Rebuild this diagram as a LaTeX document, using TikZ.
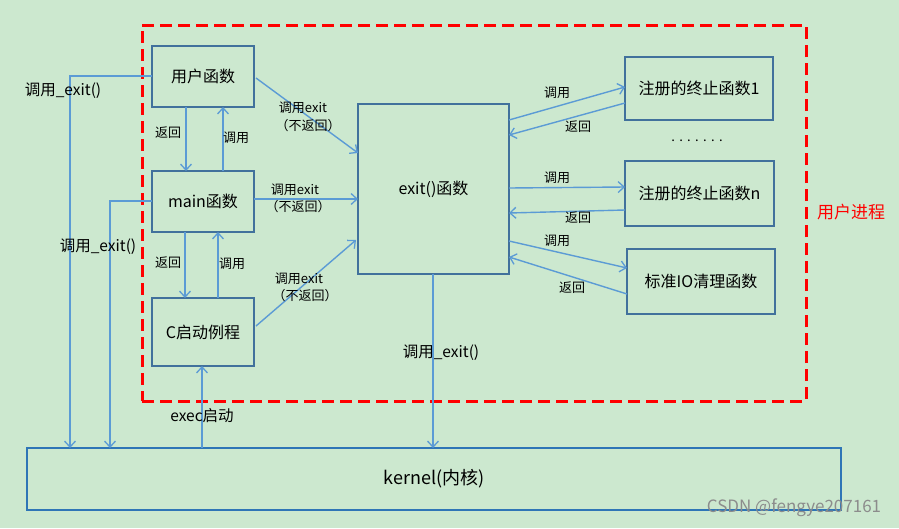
\documentclass[tikz,border=0pt]{standalone}
\usepackage{fontspec}
\setmainfont{Noto Sans CJK SC}
\usetikzlibrary{arrows.meta,calc}
\definecolor{bg}{RGB}{204,232,207}
\definecolor{boxc}{RGB}{65,113,156}
\definecolor{arr}{RGB}{91,155,213}
\definecolor{kbox}{RGB}{46,117,182}
\tikzset{
  box/.style={draw=boxc, line width=1.8pt, outer sep=0pt, inner sep=0pt, anchor=north west, font=\fontsize{16}{18}\selectfont},
  conn/.style={draw=arr, line width=1.4pt, -{Straight Barb[length=6pt,width=11pt,line width=1.3pt]}},
  lbl/.style={inner sep=0pt, font=\fontsize{13}{15}\selectfont},
  biglbl/.style={inner sep=0pt, font=\fontsize{15.5}{17}\selectfont},
}
\begin{document}
\begin{tikzpicture}[x=1pt,y=-1pt]
\useasboundingbox (0,0) rectangle (899,528);
\fill[bg] (0,0) rectangle (899,528);
% user process area
\node[draw=red, line width=3pt, dash pattern=on 12pt off 6pt, minimum width=664pt, minimum height=376pt, anchor=north west, outer sep=0pt] (proc) at (142,25) {};
\node[inner sep=0pt, text=red, font=\fontsize{17}{19}\selectfont] (proclbl) at (851,212) {用户进程};
% boxes
\node[box, minimum width=102pt, minimum height=61pt] (u) at (152,46) {用户函数};
\node[box, minimum width=102pt, minimum height=61pt] (m) at (152,171) {main函数};
\node[box, minimum width=102pt, minimum height=68pt] (c) at (152,298) {C启动例程};
\node[box, minimum width=151pt, minimum height=170pt] (e) at (358,104) {exit()函数};
\node[box, minimum width=148pt, minimum height=63pt] (r1) at (625,57) {注册的终止函数1};
\node[box, minimum width=149pt, minimum height=65pt] (rn) at (625,161) {注册的终止函数n};
\node[box, minimum width=148pt, minimum height=65pt] (io) at (627,249) {标准IO清理函数};
\node[draw=kbox, line width=1.8pt, outer sep=0pt, anchor=north west, minimum width=814pt, minimum height=62pt, font=\fontsize{18}{20}\selectfont] (k) at (27,448) {kernel(内核)};
\node[inner sep=0pt, font=\fontsize{13}{15}\selectfont] (dots) at (697,141) {.\,\,.\,\,.\,\,.\,\,.\,\,.\,\,.};
% vertical arrows left column
\draw[conn] ($(u.south west)+(34,0)$) -- ($(m.north west)+(34,0)$);
\draw[conn] ($(m.north west)+(71,0)$) -- ($(u.south west)+(71,0)$);
\draw[conn] ($(m.south west)+(33,0)$) -- ($(c.north west)+(33,0)$);
\draw[conn] ($(c.north west)+(66,0)$) -- ($(m.south west)+(66,0)$);
\node[lbl] (l1) at (168,133) {返回};
\node[lbl] (l2) at (236,138) {调用};
\node[lbl] (l3) at (168,263) {返回};
\node[lbl] (l4) at (232,264) {调用};
% into exit
\draw[conn] ($(u.north east)+(2,32)$) -- ($(e.north west)+(0,49)$);
\draw[conn] ($(m.north east)+(0,28)$) -- ($(e.north west)+(0,95)$);
\draw[conn] ($(c.north east)+(2,28)$) -- ($(e.north west)+(-2,136)$);
\node[lbl] (l5a) at (303,108) {调用exit};
\node[lbl] (l5b) at (308,126) {（不返回）};
\node[lbl] (l6a) at (295,190) {调用exit};
\node[lbl] (l6b) at (298,207) {（不返回）};
\node[lbl] (l7a) at (299,279) {调用exit};
\node[lbl] (l7b) at (305,296) {（不返回）};
% right side
\draw[conn] ($(e.north east)+(0,16)$) -- ($(r1.north west)+(0,30)$);
\draw[conn] ($(r1.north west)+(0,46)$) -- ($(e.north east)+(0,31)$);
\draw[conn] ($(e.north east)+(0,84)$) -- ($(rn.north west)+(0,26)$);
\draw[conn] ($(rn.north west)+(0,49)$) -- ($(e.north east)+(0,109)$);
\draw[conn] ($(e.north east)+(0,137)$) -- ($(io.north west)+(0,19)$);
\draw[conn] ($(io.north west)+(0,45)$) -- ($(e.north east)+(0,153)$);
\node[lbl] (l8) at (557,93) {调用};
\node[lbl] (l9) at (578,127) {返回};
\node[lbl] (l10) at (557,178) {调用};
\node[lbl] (l11) at (578,218) {返回};
\node[lbl] (l12) at (557,241) {调用};
\node[lbl] (l13) at (572,288) {返回};
% to kernel
\draw[conn] ($(e.south west)+(75,0)$) -- ($(k.north west)+(406,0)$);
\draw[conn] ($(k.north west)+(175,0)$) -- ($(c.south west)+(50,0)$);
\draw[conn] ($(u.north west)+(0,30)$) -| ($(k.north west)+(43,0)$);
\draw[conn] ($(m.north west)+(0,30)$) -| ($(k.north west)+(83,0)$);
\node[biglbl] (l14) at (441,353) {调用\_exit()};
\node[biglbl] (l15) at (202,416) {exec启动};
\node[biglbl] (l16) at (63,91) {调用\_exit()};
\node[biglbl] (l17) at (98,247) {调用\_exit()};
% watermark
\node[inner sep=0pt, text=black!45, font=\fontsize{17}{19}\selectfont] (wm) at (794,508) {CSDN @fengye207161};
\end{tikzpicture}
\end{document}
